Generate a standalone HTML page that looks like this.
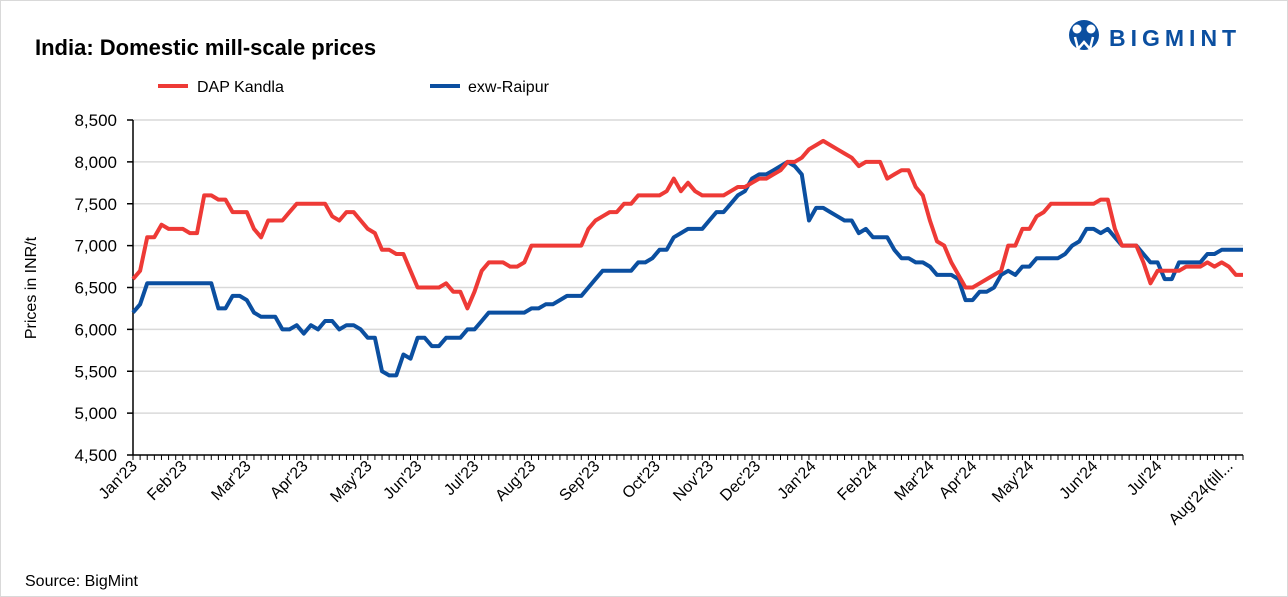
<!DOCTYPE html>
<html><head><meta charset="utf-8">
<style>
body{margin:0;background:#fff;}
svg{display:block;font-family:"Liberation Sans",sans-serif;}
</style></head>
<body>
<svg id="chart" width="1288" height="597" viewBox="0 0 1288 597">
<rect x="0.5" y="0.5" width="1287" height="596" fill="#fff" stroke="#d9d9d9"/>
<text x="35" y="55" font-size="22" font-weight="bold" fill="#000">India: Domestic mill-scale prices</text>
<g>
<circle cx="1084" cy="35" r="15" fill="#0b4fa0"/>
<circle cx="1077" cy="29" r="4.5" fill="#fff"/><circle cx="1091" cy="29" r="4.5" fill="#fff"/>
<path d="M1075 37 L1078 49 L1084 42 L1090 49 L1093 37" fill="none" stroke="#fff" stroke-width="2.5"/>
<text x="1109" y="46" font-size="23" font-weight="bold" fill="#0b4fa0" letter-spacing="5">BIGMINT</text>
</g>
<g>
<g>
<line x1="158" y1="86" x2="188" y2="86" stroke="#ee3a36" stroke-width="4"/>
<text x="197" y="92" font-size="16" fill="#000">DAP Kandla</text></g>
<g>
<line x1="430" y1="86" x2="460" y2="86" stroke="#0b4fa0" stroke-width="4"/>
<text x="468" y="92" font-size="16" fill="#000">exw-Raipur</text></g>
</g>
<text transform="translate(36,288) rotate(-90)" text-anchor="middle" font-size="16" fill="#000">Prices in INR/t</text>
<g id="grid"></g><g id="yticks"></g><g id="xaxis"></g><g id="series"></g>
<text x="25" y="586" font-size="16" fill="#000">Source: BigMint</text>
</svg>
<script>
const yTicks=[4500,5000,5500,6000,6500,7000,7500,8000,8500];
const monthLabels=["Jan'23","Feb'23","Mar'23","Apr'23","May'23","Jun'23","Jul'23","Aug'23","Sep'23","Oct'23","Nov'23","Dec'23","Jan'24","Feb'24","Mar'24","Apr'24","May'24","Jun'24","Jul'24","Aug'24(till..."];
const monthIdx=[0,7,16,24,33,40,48,56,65,73.5,81,87.6,95.4,104,112,118,126,135,144,154];
const dapKandla=[6600,6700,7100,7100,7250,7200,7200,7200,7150,7150,7600,7600,7550,7550,7400,7400,7400,7200,7100,7300,7300,7300,7400,7500,7500,7500,7500,7500,7350,7300,7400,7400,7300,7200,7150,6950,6950,6900,6900,6700,6500,6500,
6500,6500,6550,6450,6450,6250,6450,6700,6800,6800,6800,6750,6750,6800,7000,7000,7000,7000,7000,7000,7000,7000,7200,7300,7350,7400,7400,7500,7500,7600,7600,7600,7600,7650,7800,7650,7750,7650,7600,7600,
7600,7600,7650,7700,7700,7750,7800,7800,7850,7900,8000,8000,8050,8150,8200,8250,8200,8150,8100,8050,7950,8000,8000,8000,7800,7850,7900,7900,7700,7600,7300,7050,7000,6800,6650,6500,6500,6550,6600,
6650,6700,7000,7000,7200,7200,7350,7400,7500,7500,7500,7500,7500,7500,7500,7550,7550,7200,7000,7000,7000,6800,6550,6700,6700,6700,6700,6750,6750,6750,6800,6750,6800,6750,6650,6650];
const exwRaipur=[6200,6300,6550,6550,6550,6550,6550,6550,6550,6550,6550,6550,6250,6250,6400,6400,6350,6200,6150,6150,6150,6000,6000,6050,5950,6050,6000,6100,6100,6000,6050,6050,6000,5900,5900,5500,5450,5450,5700,5650,5900,5900,
5800,5800,5900,5900,5900,6000,6000,6100,6200,6200,6200,6200,6200,6200,6250,6250,6300,6300,6350,6400,6400,6400,6500,6600,6700,6700,6700,6700,6700,6800,6800,6850,6950,6950,7100,7150,7200,7200,7200,7300,
7400,7400,7500,7600,7650,7800,7850,7850,7900,7950,8000,7950,7850,7300,7450,7450,7400,7350,7300,7300,7150,7200,7100,7100,7100,6950,6850,6850,6800,6800,6750,6650,6650,6650,6600,6350,6350,6450,6450,
6500,6650,6700,6650,6750,6750,6850,6850,6850,6850,6900,7000,7050,7200,7200,7150,7200,7100,7000,7000,7000,6900,6800,6800,6600,6600,6800,6800,6800,6800,6900,6900,6950,6950,6950,6950];
const NS="http://www.w3.org/2000/svg";
const X0=133,X1=1243,Y0=455,Y1=120,VMIN=4500,VMAX=8500;
const N=dapKandla.length;
function xPos(i){return X0+(X1-X0)*i/(N-1);}
function yPos(v){return Y0-(v-VMIN)/(VMAX-VMIN)*(Y0-Y1);}
function mk(tag,attrs,parent){const e=document.createElementNS(NS,tag);for(const k in attrs)e.setAttribute(k,attrs[k]);parent.appendChild(e);return e;}
const grid=document.getElementById('grid'),yt=document.getElementById('yticks'),xa=document.getElementById('xaxis'),ser=document.getElementById('series');
yTicks.forEach(v=>{
  if(v>VMIN){const g=mk('line',{x1:X0,x2:X1,y1:yPos(v),y2:yPos(v),stroke:'#d9d9d9','stroke-width':1.5},grid);
  
  }
  const tk=mk('line',{x1:X0-6,x2:X0,y1:yPos(v),y2:yPos(v),stroke:'#000','stroke-width':1.5},yt);
  
  
  const t=mk('text',{x:X0-16,y:yPos(v)+6,'text-anchor':'end','font-size':17,fill:'#000'},yt);
  t.textContent=v.toLocaleString('en-US');
  
  
});
const ya=mk('line',{x1:X0,x2:X0,y1:Y1,y2:Y0,stroke:'#000','stroke-width':1.5},yt);


const xl=mk('line',{x1:X0,x2:X1,y1:Y0,y2:Y0,stroke:'#000','stroke-width':1.5},xa);


for(let i=0;i<N;i++){
  const tk=mk('line',{x1:xPos(i),x2:xPos(i),y1:Y0,y2:Y0+5,stroke:'#000','stroke-width':1},xa);
  
  
}
monthLabels.forEach((m,k)=>{
  const x=xPos(monthIdx[k])+5,y=Y0+12;
  const t=mk('text',{x:x,y:y,'text-anchor':'end','font-size':16,fill:'#000',transform:`rotate(-45 ${x} ${y})`},xa);
  t.textContent=m;
  
  
});
function drawLine(arr,color,name){
  const p=mk('polyline',{points:arr.map((v,i)=>xPos(i).toFixed(1)+','+yPos(v).toFixed(1)).join(' '),fill:'none',stroke:color,'stroke-width':4,'stroke-linejoin':'round'},ser);
  
  
}
drawLine(exwRaipur,'#0b4fa0','line-exw-raipur');
drawLine(dapKandla,'#ee3a36','line-dap-kandla');
</script>
</body></html>
